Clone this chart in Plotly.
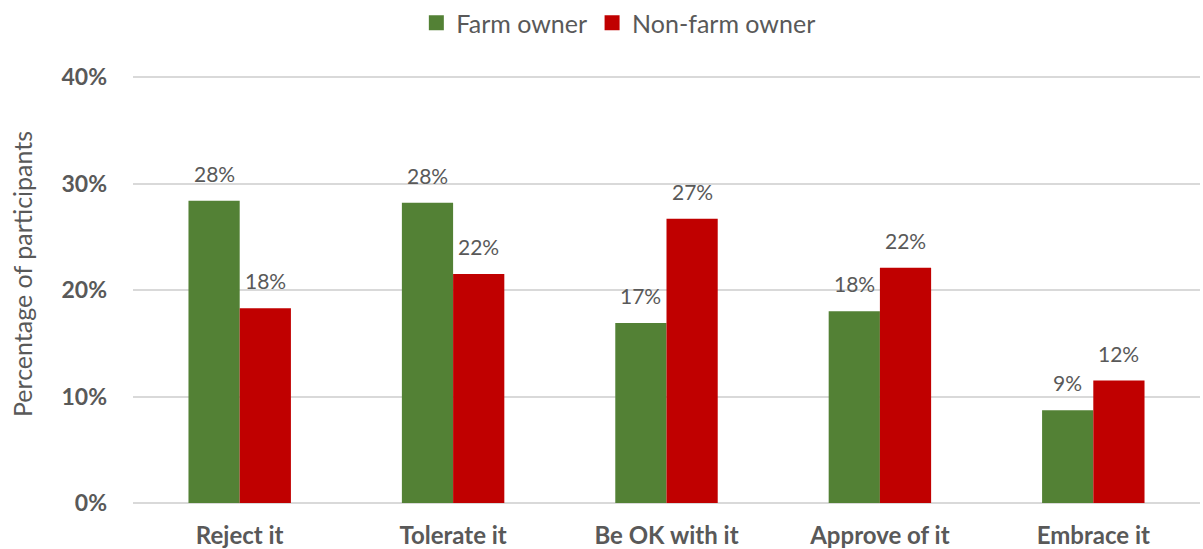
import plotly.graph_objects as go

categories = ["Reject it", "Tolerate it", "Be OK with it", "Approve of it", "Embrace it"]
farm_owner = [0.284, 0.282, 0.169, 0.180, 0.087]
non_farm_owner = [0.183, 0.215, 0.267, 0.221, 0.115]
y_ticks = [0, 0.1, 0.2, 0.3, 0.4]
y_tick_labels = ["0%", "10%", "20%", "30%", "40%"]

FONT = "Lato, 'Open Sans', sans-serif"
TEXT = "#595959"
GREEN = "#538135"
RED = "#C00000"
BARGAP = 0.52

series = [("Farm owner", farm_owner, GREEN), ("Non-farm owner", non_farm_owner, RED)]
bar_w = (1 - BARGAP) / len(series)

fig = go.Figure()
for k, (name, vals, color) in enumerate(series):
    fig.add_trace(go.Bar(
        x=list(range(len(categories))), y=vals, name=name, marker_color=color,
        marker_line_width=0, showlegend=False,
    ))
    # legend entry with a larger square swatch
    fig.add_trace(go.Scatter(
        x=[None], y=[None], mode="markers", name=name,
        marker=dict(symbol="square", size=15, color=color),
    ))
    # value labels above each bar
    offset = (k - (len(series) - 1) / 2) * bar_w
    for i, v in enumerate(vals):
        fig.add_annotation(
            x=i + offset, y=v, xref="x", yref="y", text=f"{v:.0%}",
            showarrow=False, yanchor="bottom", yshift=13,
            font=dict(size=21, color=TEXT, family=FONT),
        )

# vertical axis title
fig.add_annotation(
    x=0, y=0.5, xref="paper", yref="paper", xshift=-111, yshift=15,
    xanchor="center", yanchor="middle",
    text="Percentage of participants", textangle=-90, showarrow=False,
    font=dict(size=25, color=TEXT, family=FONT),
)

fig.update_layout(
    width=1203, height=549,
    margin=dict(l=133, r=3, t=75, b=46),
    paper_bgcolor="white", plot_bgcolor="white",
    barmode="group", bargap=BARGAP, bargroupgap=0,
    font=dict(family=FONT, color=TEXT),
    legend=dict(orientation="h", x=0.514, xanchor="center", xref="container",
                y=1.0, yanchor="top", yref="container",
                font=dict(size=25, color=TEXT, family=FONT),
                itemwidth=30, traceorder="normal"),
    xaxis=dict(showgrid=False, showline=False, ticks="", automargin=False,
               tickvals=list(range(len(categories))), ticktext=categories,
               range=[-0.5, len(categories) - 0.5], ticklabelstandoff=16,
               tickfont=dict(size=24, color=TEXT, family=FONT, weight="bold")),
    yaxis=dict(range=[0, 0.402], tickvals=y_ticks, ticktext=y_tick_labels,
               automargin=False,
               showgrid=True, gridcolor="#D9D9D9", gridwidth=1.5,
               zeroline=True, zerolinecolor="#D9D9D9", zerolinewidth=1.5,
               ticks="", ticklabelstandoff=25,
               tickfont=dict(size=23, color=TEXT, family=FONT, weight="bold")),
)

fig.write_html("out.html")
